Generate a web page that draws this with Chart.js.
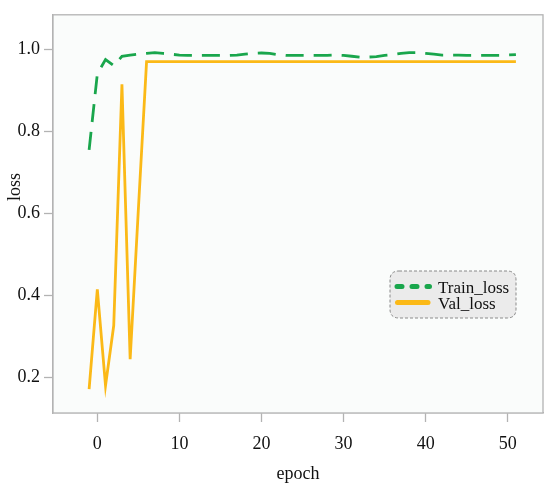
<!DOCTYPE html>
<html>
<head>
<meta charset="utf-8">
<script src="https://cdn.jsdelivr.net/npm/chart.js@4.4.1/dist/chart.umd.min.js"></script>
<style>
    html, body { margin: 0; padding: 0; background: #ffffff; }
    #lossChart { display: block; }
</style>
</head>
<body>
<canvas id="lossChart" width="550" height="490"></canvas>
<script>
// epochs
const epochs = [-1, 0, 1, 2, 3, 4, 5, 6, 7, 8, 9, 10, 11, 12, 13, 14, 15, 16, 17, 18, 19, 20,
    21, 22, 23, 24, 25, 26, 27, 28, 29, 30, 31, 32, 33, 34, 35, 36, 37, 38, 39, 40,
    41, 42, 43, 44, 45, 46, 47, 48, 49, 50, 51];

const trainLoss = [0.755, 0.94, 0.975, 0.96, 0.983, 0.986, 0.988, 0.99, 0.992, 0.99, 0.988, 0.986,
    0.985, 0.985, 0.985, 0.985, 0.985, 0.985, 0.986, 0.988, 0.99, 0.991, 0.99, 0.987, 0.985,
    0.985, 0.985, 0.985, 0.985, 0.985, 0.986, 0.985, 0.983, 0.981, 0.981, 0.982, 0.985, 0.987,
    0.99, 0.992, 0.992, 0.99, 0.988, 0.986, 0.986, 0.986, 0.985, 0.985, 0.985, 0.985, 0.985,
    0.986, 0.987];

const valLoss = [0.172, 0.415, 0.181, 0.327, 0.915, 0.245, 0.61, 0.97, 0.97, 0.97, 0.97, 0.97,
    0.97, 0.97, 0.97, 0.97, 0.97, 0.97, 0.97, 0.97, 0.97, 0.97, 0.97, 0.97, 0.97,
    0.97, 0.97, 0.97, 0.97, 0.97, 0.97, 0.97, 0.97, 0.97, 0.97, 0.97, 0.97, 0.97,
    0.97, 0.97, 0.97, 0.97, 0.97, 0.97, 0.97, 0.97, 0.97, 0.97, 0.97, 0.97, 0.97,
    0.97, 0.97];

const xTicks = [0, 10, 20, 30, 40, 50];
const yTicks = [0.2, 0.4, 0.6, 0.8, 1.0];
const seriesNames = ["Train_loss", "Val_loss"];

const GREEN = "#19a64c";
const GOLD = "#fbb917";
const AXIS_GREY = "#b3b3b3";
const SERIF = "'Liberation Serif', 'Times New Roman', serif";

function toPoints(xs, ys) {
    return xs.map((x, i) => ({ x: x, y: ys[i] }));
}

// plot background, full frame, axis titles and the boxed legend
const decorations = {
    id: "decorations",
    beforeDatasetsDraw(chart) {
        const a = chart.chartArea;
        const ctx = chart.ctx;
        ctx.save();
        ctx.fillStyle = "#fafcfb";
        ctx.fillRect(a.left, a.top, a.right - a.left, a.bottom - a.top);
        ctx.restore();
    },
    afterDraw(chart) {
        const a = chart.chartArea;
        const ctx = chart.ctx;
        ctx.save();
        ctx.strokeStyle = AXIS_GREY;
        ctx.lineWidth = 1.3;
        ctx.strokeRect(a.left, a.top, a.right - a.left, a.bottom - a.top);

        // axis titles
        ctx.fillStyle = "#111";
        ctx.font = "18px " + SERIF;
        ctx.textAlign = "center";
        ctx.textBaseline = "alphabetic";
        ctx.fillText("epoch", (a.left + a.right) / 2, 479);
        ctx.translate(20, 187);
        ctx.rotate(-Math.PI / 2);
        ctx.fillText("loss", 0, 0);
        ctx.restore();

        // legend box
        ctx.save();
        const bx = 390, by = 271, bw = 126, bh = 47, r = 9;
        ctx.beginPath();
        ctx.moveTo(bx + r, by);
        ctx.lineTo(bx + bw - r, by);
        ctx.quadraticCurveTo(bx + bw, by, bx + bw, by + r);
        ctx.lineTo(bx + bw, by + bh - r);
        ctx.quadraticCurveTo(bx + bw, by + bh, bx + bw - r, by + bh);
        ctx.lineTo(bx + r, by + bh);
        ctx.quadraticCurveTo(bx, by + bh, bx, by + bh - r);
        ctx.lineTo(bx, by + r);
        ctx.quadraticCurveTo(bx, by, bx + r, by);
        ctx.closePath();
        ctx.fillStyle = "#ebebeb";
        ctx.fill();
        ctx.setLineDash([3, 2]);
        ctx.lineWidth = 1;
        ctx.strokeStyle = "#8a8a8a";
        ctx.stroke();

        ctx.lineWidth = 5;
        ctx.lineCap = "round";
        ctx.strokeStyle = GREEN;
        ctx.setLineDash([5, 10]);
        ctx.beginPath();
        ctx.moveTo(397, 286.5);
        ctx.lineTo(429.5, 286.5);
        ctx.stroke();

        ctx.setLineDash([]);
        ctx.strokeStyle = GOLD;
        ctx.beginPath();
        ctx.moveTo(397.5, 302.5);
        ctx.lineTo(428, 302.5);
        ctx.stroke();

        ctx.fillStyle = "#111";
        ctx.font = "17px " + SERIF;
        ctx.textAlign = "left";
        ctx.textBaseline = "alphabetic";
        ctx.fillText(seriesNames[0], 438, 292.5);
        ctx.fillText(seriesNames[1], 438, 308.5);
        ctx.restore();
    }
};

new Chart(document.getElementById("lossChart"), {
    type: "line",
    data: {
        datasets: [
            {
                label: seriesNames[0],
                data: toPoints(epochs, trainLoss),
                borderColor: GREEN,
                borderWidth: 2.8,
                borderDash: [18, 10],
                pointRadius: 0,
                tension: 0,
                fill: false,
            },
            {
                label: seriesNames[1],
                data: toPoints(epochs, valLoss),
                borderColor: GOLD,
                borderWidth: 2.8,
                pointRadius: 0,
                tension: 0,
                fill: false,
            },
        ],
    },
    options: {
        responsive: false,
        animation: false,
        devicePixelRatio: 1,
        layout: { padding: { top: 7, right: 7, left: 0, bottom: 0 } },
        plugins: {
            legend: { display: false },
            tooltip: { enabled: false },
        },
        scales: {
            x: {
                type: "linear",
                min: -5.4,
                max: 54.3,
                afterFit: function (scale) { scale.height = 77; },
                afterBuildTicks: function (scale) {
                    scale.ticks = xTicks.map((v) => ({ value: v }));
                },
                grid: {
                    display: true,
                    drawOnChartArea: false,
                    drawTicks: true,
                    tickLength: 9,
                    tickColor: AXIS_GREY,
                    tickWidth: 1.3,
                },
                border: { display: true, color: AXIS_GREY, width: 1.3 },
                ticks: {
                    padding: 11,
                    maxRotation: 0,
                    color: "#111",
                    font: { family: SERIF, size: 18 },
                },
            },
            y: {
                type: "linear",
                min: 0.114,
                max: 1.084,
                afterFit: function (scale) { scale.width = 53; },
                afterBuildTicks: function (scale) {
                    scale.ticks = yTicks.map((v) => ({ value: v }));
                },
                grid: {
                    display: true,
                    drawOnChartArea: false,
                    drawTicks: true,
                    tickLength: 9,
                    tickColor: AXIS_GREY,
                    tickWidth: 1.3,
                },
                border: { display: true, color: AXIS_GREY, width: 1.3 },
                ticks: {
                    padding: 4,
                    color: "#111",
                    font: { family: SERIF, size: 18 },
                    callback: function (value) { return value.toFixed(1); },
                },
            },
        },
    },
    plugins: [decorations],
});
</script>
</body>
</html>
